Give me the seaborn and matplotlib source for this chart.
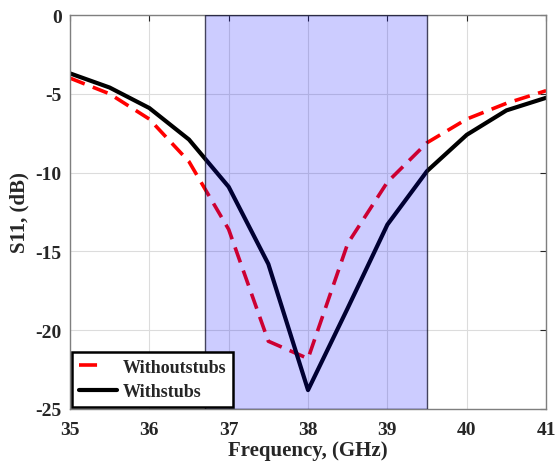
import numpy as np
import pandas as pd
import matplotlib
matplotlib.use("Agg")
import matplotlib.pyplot as plt
from matplotlib.lines import Line2D
import seaborn as sns

freq = [35.0, 35.5, 36.0, 36.5, 37.0, 37.5, 38.0, 38.5, 39.0, 39.5, 40.0, 40.5, 41.0]
without_stubs = [-4.0, -5.0, -6.6, -9.3, -13.6, -20.7, -21.8, -14.5, -10.6, -8.1, -6.6, -5.6, -4.8]
with_stubs = [-3.7, -4.6, -5.9, -7.9, -10.9, -15.8, -23.8, -18.6, -13.3, -9.9, -7.6, -6.05, -5.25]
band = [36.7, 39.5]
series_names = ["Withoutstubs", "Withstubs"]
xticks = [35, 36, 37, 38, 39, 40, 41]
yticks = [0, -5, -10, -15, -20, -25]

sns.set_theme(style="white")
plt.rcParams["font.family"] = ["Liberation Serif", "DejaVu Serif"]
plt.rcParams["font.weight"] = "bold"
plt.rcParams["axes.unicode_minus"] = False

df = pd.DataFrame({
    "f": freq * 2,
    "s11": without_stubs + with_stubs,
    "series": [series_names[0]] * len(freq) + [series_names[1]] * len(freq),
})

fig = plt.figure(figsize=(5.55, 4.64), dpi=100)
ax = fig.add_axes([0.126, 0.1164, 0.858, 0.849])

ax.grid(True, color="#dcdcdc", linewidth=0.8, zorder=0)
ax.set_axisbelow(True)

d0 = df[df.series == series_names[0]]
d1 = df[df.series == series_names[1]]
sns.lineplot(data=d0, x="f", y="s11", ax=ax, color="red", linewidth=2.6,
             legend=False, zorder=2)
ax.lines[-1].set_dashes((4.4, 2.4))
sns.lineplot(data=d1, x="f", y="s11", ax=ax, color="black", linewidth=3.0,
             legend=False, zorder=2)

ax.axvspan(band[0], band[1], facecolor=(0, 0, 1, 0.2), edgecolor=(0.1, 0.1, 0.2, 0.8),
           linewidth=1.0, zorder=3)

ax.set_xlim(35, 41)
ax.set_ylim(-25, 0)
ax.set_xticks(xticks)
ax.set_yticks(yticks)
ax.tick_params(direction="in", top=True, right=True, length=4, width=0.8,
               labelsize=14, colors="#262626", pad=6)
ax.tick_params(axis="x", pad=9)
for lab in ax.get_xticklabels() + ax.get_yticklabels():
    lab.set_fontweight("bold")
for sp in ax.spines.values():
    sp.set_color("#7f7f7f")
    sp.set_linewidth(1.0)

ax.set_xlabel("Frequency, (GHz)", fontsize=15, fontweight="bold", labelpad=1)
ax.set_ylabel("S11, (dB)", fontsize=15, fontweight="bold", labelpad=4)

handles = [
    Line2D([], [], color="red", linewidth=2.6, dashes=(5.0, 8.0)),
    Line2D([], [], color="black", linewidth=3.0),
]
leg = ax.legend(handles, series_names, loc="lower left", borderaxespad=0.1,
                fontsize=13, frameon=True, fancybox=False, edgecolor="black",
                handlelength=2.1, handletextpad=0.3, borderpad=0.4,
                labelspacing=0.4, framealpha=1)
leg.get_frame().set_linewidth(1.8)
leg.set_zorder(5)
for t in leg.get_texts():
    t.set_fontweight("bold")

fig.savefig("out.png", dpi=100)
